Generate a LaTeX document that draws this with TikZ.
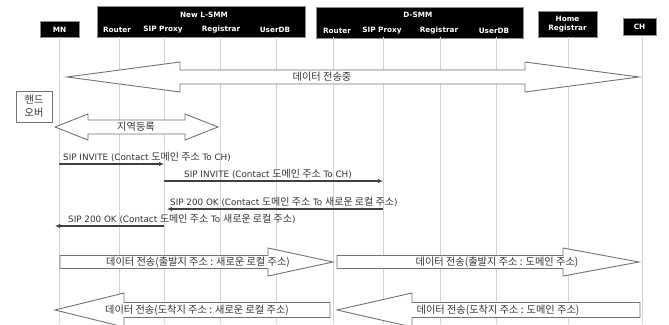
\documentclass[tikz,border=0pt]{standalone}
\usepackage{fontspec}
\setmainfont{DejaVu Sans}
\newfontfamily\kr{Noto Sans CJK KR}
\newcommand{\ko}[1]{{\kr\fontsize{10}{10}\selectfont #1}}
\usetikzlibrary{arrows.meta}
\begin{document}
\begin{tikzpicture}[x=1pt,y=-1pt,
  hdr/.style={fill=black,draw=black!45,line width=0.6pt,inner sep=0pt},
  hdrtxt/.style={text=white,font=\bfseries\fontsize{7.3}{8}\selectfont,inner sep=0pt},
  life/.style={draw=black!17,line width=0.9pt},
  fat/.style={draw=black!55,fill=white,line width=0.9pt},
  msg/.style={draw=black!75,line width=1.1pt,-{Latex[length=5pt,width=4.5pt]}},
  lbl/.style={font=\fontsize{8.8}{9}\selectfont,text=black!80,inner sep=0pt,anchor=west},
  ktxt/.style={font=\kr\fontsize{10.2}{11}\selectfont,text=black!80,inner sep=0pt}]
\useasboundingbox[fill=white] (0,0) rectangle (669,324);

% header boxes
\node[hdr,minimum width=39pt,minimum height=16pt] (mn) at (59.5,29) {};
\node[hdrtxt] (mnt) at (59.5,29.5) {MN};
\node[hdr,minimum width=208pt,minimum height=31pt] (lsmm) at (201,21.5) {};
\node[hdrtxt] (lsmmt) at (204,15) {New L-SMM};
\node[hdrtxt] (lrt) at (117,30) {Router};
\node[hdrtxt] (lst) at (163,30) {SIP Proxy};
\node[hdrtxt] (lgt) at (221,30) {Registrar};
\node[hdrtxt] (lut) at (275,30) {UserDB};
\node[hdr,minimum width=207pt,minimum height=31pt] (dsmm) at (419.5,22.5) {};
\node[hdrtxt] (dsmmt) at (418,15) {D-SMM};
\node[hdrtxt] (drt) at (337,31) {Router};
\node[hdrtxt] (dst) at (382,31) {SIP Proxy};
\node[hdrtxt] (dgt) at (439,31) {Registrar};
\node[hdrtxt] (dut) at (494,31) {UserDB};
\node[hdr,minimum width=59pt,minimum height=26pt] (home) at (567.5,24) {};
\node[hdrtxt,align=center,font=\bfseries\fontsize{7.3}{9}\selectfont] (homet) at (567.5,24.5) {Home\\Registrar};
\node[hdr,minimum width=33pt,minimum height=17pt] (ch) at (639.5,26.5) {};
\node[hdrtxt] (cht) at (639.5,27) {CH};

% lifelines
\foreach \n/\x in {mnl/59,lr/119,ls/164,lg/220,lu/276,dr/333,ds/383,dg/440,du/496,hr/568,chl/642}{
  \coordinate (\n t) at (\x,37);
  \coordinate (\n b) at (\x,324);
  \draw[life] (\n t) -- (\n b);
}

% data in transfer (double arrow)
\draw[fat] (67,77) -- (180,62) -- (180,70) -- (525,70) -- (525,62) -- (639,77)
  -- (525,92) -- (525,84) -- (180,84) -- (180,92) -- cycle;
\node[ktxt] (dt) at (322,77) {데이터 전송중};

% handover box
\node[draw=black!55,line width=0.9pt,fill=white,minimum width=36pt,minimum height=31pt,inner sep=0pt] (ho) at (34,106.5) {};
\node[ktxt,align=center,font=\kr\fontsize{10.2}{13}\selectfont] (hot) at (34,106.5) {핸드\\오버};

% local registration
\draw[fat] (55,127) -- (88,114) -- (88,120) -- (185,120) -- (185,114) -- (218,127)
  -- (185,140) -- (185,134) -- (88,134) -- (88,140) -- cycle;
\node[ktxt] (lr) at (136,127) {지역등록};

% messages
\coordinate (m1s) at (59,164); \coordinate (m1e) at (164,164);
\coordinate (m2s) at (164,181); \coordinate (m2e) at (383,181);
\coordinate (m3s) at (383,209); \coordinate (m3e) at (167,209);
\coordinate (m4s) at (164,226); \coordinate (m4e) at (55,226);
\draw[msg] (m1s) -- (m1e);
\draw[msg] (m2s) -- (m2e);
\draw[msg] (m3s) -- (m3e);
\draw[msg] (m4s) -- (m4e);
\node[lbl] (l1) at (63,157) {SIP INVITE (Contact \ko{도메인 주소} To CH)};
\node[lbl] (l2) at (184,174) {SIP INVITE (Contact \ko{도메인 주소} To CH)};
\node[lbl] (l3) at (170,202) {SIP 200 OK (Contact \ko{도메인 주소} To \ko{새로운 로컬 주소})};
\node[lbl] (l4) at (68,219) {SIP 200 OK (Contact \ko{도메인 주소} To \ko{새로운 로컬 주소})};

% data transfer arrows
\draw[fat] (60,255.5) -- (268,255.5) -- (268,248) -- (333,262) -- (268,276) -- (268,268.5) -- (60,268.5) -- cycle;
\node[ktxt] (d1) at (198,262) {데이터 전송(출발지 주소 : 새로운 로컬 주소)};
\draw[fat] (337,255.5) -- (563,255.5) -- (563,248) -- (639,262) -- (563,276) -- (563,268.5) -- (337,268.5) -- cycle;
\node[ktxt] (d2) at (497,262) {데이터 전송(출발지 주소 : 도메인 주소)};
\draw[fat] (55,310) -- (124,293) -- (124,302.5) -- (330,302.5) -- (330,317.5) -- (124,317.5) -- (124,327) -- cycle;
\node[ktxt] (d3) at (197,310) {데이터 전송(도착지 주소 : 새로운 로컬 주소)};
\draw[fat] (337,310) -- (412,293) -- (412,302.5) -- (640,302.5) -- (640,317.5) -- (412,317.5) -- (412,327) -- cycle;
\node[ktxt] (d4) at (498,310) {데이터 전송(도착지 주소 : 도메인 주소)};
\end{tikzpicture}
\end{document}
